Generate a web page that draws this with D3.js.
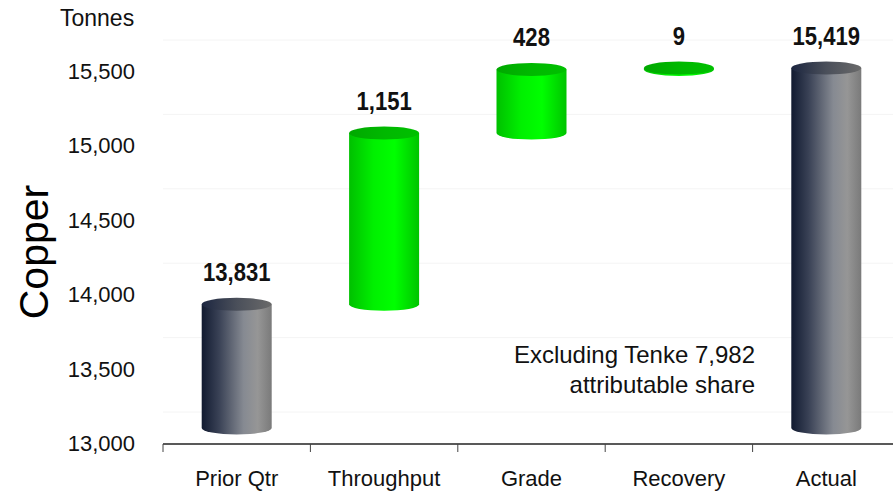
<!DOCTYPE html>
<html>
<head>
<meta charset="utf-8">
<script src="https://cdn.jsdelivr.net/npm/d3@7"></script>
<style>
  body { margin: 0; background: #fff; }
  svg { display: block; }
</style>
</head>
<body>
<div id="chart"></div>
<script>
// data
const categories = ["Prior Qtr", "Throughput", "Grade", "Recovery", "Actual"];
const values = [13831, 1151, 428, 9, 15419];
const kinds = ["total", "delta", "delta", "delta", "total"];
const labels = ["13,831", "1,151", "428", "9", "15,419"];
const yTicks = [13000, 13500, 14000, 14500, 15000, 15500];

const width = 893, height = 493;
const depth = 15;   // cylinders sit a little behind the front axis
const wall = 31;    // gridlines are on the back wall

const svg = d3.select("#chart").append("svg")
  .attr("width", width).attr("height", height);

const x = d3.scaleBand().domain(categories).range([163, 900]);
const y = d3.scaleLinear().domain([13000, 15500]).range([443, 71]);

// gradients
const defs = svg.append("defs");
function grad(id, stops) {
  const g = defs.append("linearGradient").attr("id", id)
    .attr("x1", "0%").attr("x2", "100%").attr("y1", "0%").attr("y2", "0%");
  stops.forEach(s => g.append("stop").attr("offset", s[0]).attr("stop-color", s[1]));
}
grad("grayBody", [["0%", "#111a30"], ["25%", "#3a4256"], ["60%", "#868a92"], ["80%", "#969696"], ["100%", "#7a7a7a"]]);
grad("grayTop", [["0%", "#1c2640"], ["50%", "#4a4f5a"], ["100%", "#6a6a6a"]]);
grad("greenBody", [["0%", "#00c000"], ["35%", "#00f000"], ["65%", "#00ff00"], ["100%", "#00c400"]]);
grad("greenTop", [["0%", "#00a800"], ["50%", "#00b800"], ["100%", "#00c000"]]);

// back wall gridlines
svg.append("g").selectAll("line").data(yTicks).enter().append("line")
  .attr("x1", 163).attr("x2", width)
  .attr("y1", d => y(d) - wall).attr("y2", d => y(d) - wall)
  .attr("stroke", "#f4f4f4").attr("stroke-width", 1);

// y tick labels
svg.append("g").selectAll("text").data(yTicks).enter().append("text")
  .attr("x", 135).attr("y", d => y(d) + 8)
  .attr("text-anchor", "end")
  .attr("font-family", "Liberation Sans, Arial, sans-serif")
  .attr("font-size", 22).attr("fill", "#111")
  .text(d => d3.format(",")(d));

svg.append("text").attr("x", 60).attr("y", 26)
  .attr("font-family", "Liberation Sans, Arial, sans-serif")
  .attr("font-size", 23).attr("fill", "#111").text("Tonnes");

svg.append("text")
  .attr("transform", "translate(48,252) rotate(-90)")
  .attr("text-anchor", "middle")
  .attr("font-family", "Liberation Sans, Arial, sans-serif")
  .attr("font-size", 41).attr("fill", "#000").text("Copper");

// waterfall steps
let run = 0;
const bars = categories.map((c, i) => {
  let lo, hi;
  if (kinds[i] === "total") { lo = 13000; hi = values[i]; run = values[i]; }
  else { lo = run; hi = run + values[i]; run = hi; }
  return { cat: c, lo, hi, kind: kinds[i], label: labels[i] };
});

const cw = 70, ry = 6.5;
const g = svg.append("g").selectAll("g").data(bars).enter().append("g");
g.each(function(d) {
  const sel = d3.select(this);
  const cx = x(d.cat) + x.bandwidth() / 2;
  const yT = y(d.hi) - depth, yB = y(d.lo) - depth;
  const body = d.kind === "total" ? "url(#grayBody)" : "url(#greenBody)";
  const top = d.kind === "total" ? "url(#grayTop)" : "url(#greenTop)";
  sel.append("path")
    .attr("d", `M${cx - cw / 2},${yT} L${cx - cw / 2},${yB} A${cw / 2},${ry} 0 0 0 ${cx + cw / 2},${yB} L${cx + cw / 2},${yT} Z`)
    .attr("fill", body);
  sel.append("ellipse").attr("cx", cx).attr("cy", yT).attr("rx", cw / 2).attr("ry", ry)
    .attr("fill", top);
  sel.append("text")
    .attr("transform", `translate(${cx},${yT - ry - 17}) scale(0.96,1.1)`)
    .attr("text-anchor", "middle")
    .attr("font-family", "Liberation Sans Narrow, Arial Narrow, sans-serif")
    .attr("font-weight", "bold").attr("font-size", 23).attr("fill", "#111")
    .text(d.label);
});

// x axis along the front
const axisY = 444;
svg.append("line").attr("x1", 163).attr("x2", width).attr("y1", axisY).attr("y2", axisY)
  .attr("stroke", "#222").attr("stroke-width", 1.5);
svg.append("g").selectAll("line").data(categories).enter().append("line")
  .attr("x1", d => x(d)).attr("x2", d => x(d))
  .attr("y1", axisY).attr("y2", axisY + 8)
  .attr("stroke", "#444").attr("stroke-width", 1);
svg.append("g").selectAll("text").data(categories).enter().append("text")
  .attr("x", d => x(d) + x.bandwidth() / 2).attr("y", 486)
  .attr("text-anchor", "middle")
  .attr("font-family", "Liberation Sans, Arial, sans-serif")
  .attr("font-size", 22).attr("fill", "#111")
  .text(d => d);

// note
const note = svg.append("text").attr("text-anchor", "end")
  .attr("font-family", "Liberation Sans, Arial, sans-serif")
  .attr("font-size", 24).attr("fill", "#111");
note.append("tspan").attr("x", 755).attr("y", 363).text("Excluding Tenke 7,982");
note.append("tspan").attr("x", 755).attr("y", 393).text("attributable share");
</script>
</body>
</html>
